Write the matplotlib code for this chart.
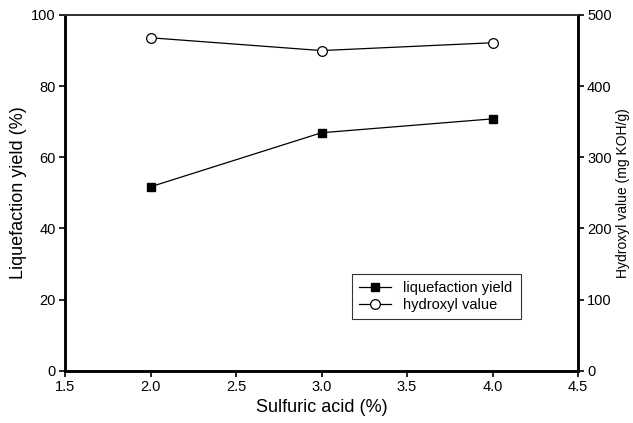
import matplotlib
matplotlib.use("Agg")
import matplotlib.pyplot as plt

acid = [2.0, 3.0, 4.0]
yield_pct = [51.7, 66.9, 70.8]
hydroxyl = [468, 450, 461]
x_ticks = [1.5, 2.0, 2.5, 3.0, 3.5, 4.0, 4.5]

plt.rcParams['font.family'] = ['Liberation Sans', 'DejaVu Sans']

fig = plt.figure(figsize=(6.33, 4.23), dpi=100)
ax = fig.add_axes([65/633, 1-370.7/423, (578-65)/633, (370.7-15)/423])
ax2 = ax.twinx()

l1, = ax.plot(acid, yield_pct, color='black', lw=0.9, marker='s', ms=5.5,
              mfc='black', mec='black', label='liquefaction yield')
l2, = ax2.plot(acid, hydroxyl, color='black', lw=0.9, marker='o', ms=7,
               mfc='white', mec='black', mew=0.9, label='hydroxyl value')

ax.set_xlim(1.5, 4.5)
ax.set_ylim(0, 100)
ax2.set_ylim(0, 500)
ax.set_xticks(x_ticks)
ax.set_xticklabels([f"{v:.1f}" for v in x_ticks])
ax.set_yticks([0, 20, 40, 60, 80, 100])
ax2.set_yticks([0, 100, 200, 300, 400, 500])

for a in (ax, ax2):
    a.tick_params(direction='out', length=4, width=1.2, labelsize=10.5, colors='black', pad=2.5)
    for s in a.spines.values():
        s.set_linewidth(1.8)
    a.spines['top'].set_linewidth(1.3)
    a.spines['top'].set_color('#333333')

ax.set_xlabel('Sulfuric acid (%)', fontsize=13, labelpad=4)
ax.set_ylabel('Liquefaction yield (%)', fontsize=13, labelpad=3)
ax2.set_ylabel('Hydroxyl value (mg KOH/g)', fontsize=10, labelpad=3)

leg = ax.legend(handles=[l1, l2], loc='lower left',
                bbox_to_anchor=((352-65)/513, (370.7-319)/355.7, (521-352)/513, (319-275)/355.7),
                mode='expand', fontsize=10.5, frameon=True, fancybox=False,
                edgecolor='black', handlelength=2.2, borderaxespad=0, labelspacing=0.2,
                borderpad=0.5)
leg.get_frame().set_linewidth(0.8)

fig.savefig('out.png', dpi=100)
